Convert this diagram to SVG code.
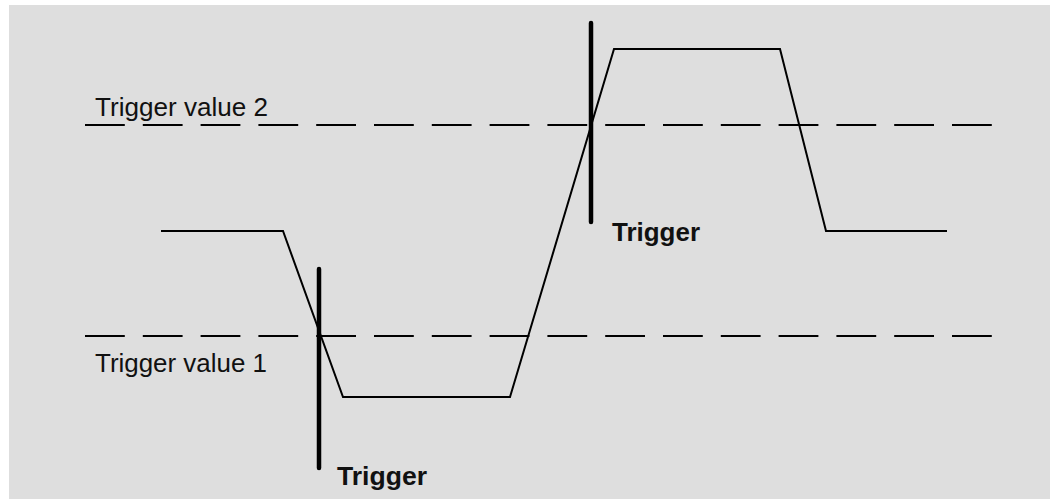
<svg xmlns="http://www.w3.org/2000/svg" width="1050" height="499" viewBox="0 0 1050 499">
<style>
.lbl{font-family:"Liberation Sans",Arial,sans-serif;font-size:26.5px;fill:#111}
.bold{font-weight:bold;font-size:26px}
.dash{stroke:#000;stroke-width:2.2;stroke-dasharray:39.8 18;fill:none}
.wave{stroke:#000;stroke-width:2;fill:none;stroke-linejoin:miter}
.bar{stroke:#000;stroke-width:4.5;stroke-linecap:round}
</style>
<rect x="9" y="5" width="1041" height="494" fill="#dedede"/>
<g id="thresholds">
<line class="dash" x1="85" y1="125" x2="993" y2="125"/>
<line class="dash" x1="85" y1="336" x2="993" y2="336"/>
</g>
<g id="labels">
<text class="lbl" x="95" y="116" textLength="173" lengthAdjust="spacingAndGlyphs">Trigger value 2</text>
<text class="lbl" x="95" y="372" textLength="172" lengthAdjust="spacingAndGlyphs">Trigger value 1</text>
</g>
<g id="signal">
<polyline class="wave" points="161,231 283,231 343,397 510,397 614,49 780,49 826,231 947,231"/>
</g>
<g id="trigger1">
<line class="bar" x1="319" y1="269" x2="319" y2="468"/>
<text class="lbl bold" x="337" y="485" textLength="90" lengthAdjust="spacingAndGlyphs">Trigger</text>
</g>
<g id="trigger2">
<line class="bar" x1="591" y1="23" x2="591" y2="222"/>
<text class="lbl bold" x="612" y="241" textLength="88" lengthAdjust="spacingAndGlyphs">Trigger</text>
</g>
</svg>
